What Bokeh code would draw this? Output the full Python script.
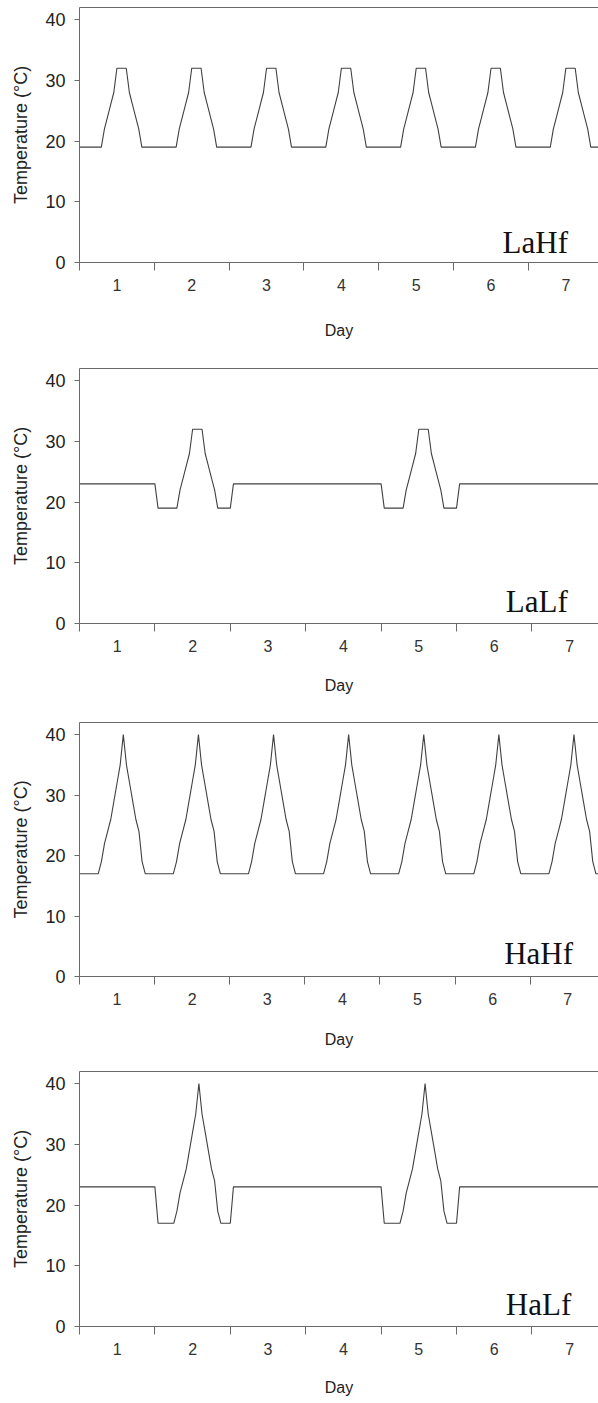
from bokeh.plotting import figure
from bokeh.layouts import column
from bokeh.models import FixedTicker, LinearAxis, Label, Range1d
from bokeh.embed import file_html
from bokeh.resources import INLINE

# ---------------- data ----------------
day_labels = ["1", "2", "3", "4", "5", "6", "7"]
day_centers = [12, 36, 60, 84, 108, 132, 156]          # hours
day_bounds = [0, 24, 48, 72, 96, 120, 144, 168]        # hours
y_ticks = [0, 10, 20, 30, 40]

# low-amplitude heating day profile (hour of day, temperature °C)
la_hours = [0, 7, 8, 9, 10, 11, 12, 15, 16, 17, 18, 19, 20, 24]
la_temps = [19, 19, 22, 24, 26, 28, 32, 32, 28, 26, 24, 22, 19, 19]
# high-amplitude heating day profile
ha_hours = [0, 6, 7, 8, 9, 10, 11, 12, 13, 14, 15, 16, 17, 18, 19, 20, 21, 24]
ha_temps = [17, 17, 19, 22, 24, 26, 29, 32, 35, 40, 35, 32, 29, 26, 24, 19, 17, 17]

lf_base = 23                      # constant temperature on non-heated days
hf_heat_days = [1, 2, 3, 4, 5, 6, 7]
lf_heat_days = [2, 5]
panel_names = ["LaHf", "LaLf", "HaHf", "HaLf"]


def build_series(hours, temps, heat_days, base=None):
    xs, ys = [], []
    if base is None:
        xs.append(0); ys.append(temps[0])
        for d in range(1, 8):
            off = (d - 1) * 24
            for h, t in zip(hours[1:], temps[1:]):
                xs.append(off + h); ys.append(t)
        return xs, ys
    xs.append(0); ys.append(base)
    for d in range(1, 8):
        off = (d - 1) * 24
        if d in heat_days:
            xs += [off, off + 1]; ys += [base, temps[0]]
            for h, t in zip(hours, temps):
                if 0 < h < 24:
                    xs.append(off + h); ys.append(t)
            xs += [off + 24, off + 25]; ys += [temps[-1], base]
        else:
            xs.append(off + 24); ys.append(base)
    return xs, ys


series = [
    build_series(la_hours, la_temps, hf_heat_days),
    build_series(la_hours, la_temps, lf_heat_days, lf_base),
    build_series(ha_hours, ha_temps, hf_heat_days),
    build_series(ha_hours, ha_temps, lf_heat_days, lf_base),
]

# ---------------- layout ----------------
heights = [360, 352, 349, 341]
top_b = [7, 8, 10, 10]
bot_b = [98, 89, 85, 76]
left_b = [75, 79, 77, 79]
day_standoff = [28, 22, 23, 21]
name_y = [3.35, 3.6, 3.75, 3.7]
PX_PER_HOUR = 75.4 / 24.0
W = 598
AX = "#6a6a6a"
TXT = "#222222"
FONT = "Liberation Sans"

figs = []
for i in range(4):
    xend = (W - left_b[i]) / PX_PER_HOUR
    p = figure(width=W, height=heights[i], output_backend="svg", toolbar_location=None,
               x_range=Range1d(0, xend), y_range=Range1d(0, 42),
               min_border_left=left_b[i], min_border_right=0,
               min_border_top=top_b[i], min_border_bottom=bot_b[i])
    p.outline_line_color = None
    p.xgrid.visible = False
    p.ygrid.visible = False
    p.background_fill_color = "white"

    xs, ys = series[i]
    p.line(xs, ys, line_color="#404040", line_width=1.1)

    xa = p.xaxis[0]
    xa.ticker = FixedTicker(ticks=day_centers, minor_ticks=day_bounds)
    xa.major_label_overrides = {c: l for c, l in zip(day_centers, day_labels)}
    xa.major_tick_out = 0
    xa.major_tick_in = 0
    xa.minor_tick_out = 8
    xa.minor_tick_in = 0
    xa.minor_tick_line_color = AX
    xa.axis_line_color = AX
    xa.major_label_text_font = FONT
    xa.major_label_text_font_size = "16px"
    xa.major_label_text_color = "#333333"
    xa.major_label_standoff = 8
    xa.axis_label = "Day"
    xa.axis_label_text_font = FONT
    xa.axis_label_text_font_size = "16px"
    xa.axis_label_text_font_style = "normal"
    xa.axis_label_text_color = TXT
    xa.axis_label_standoff = day_standoff[i]

    ya = p.yaxis[0]
    ya.ticker = FixedTicker(ticks=y_ticks)
    ya.major_tick_out = 5
    ya.major_tick_in = 0
    ya.major_tick_line_color = AX
    ya.minor_tick_line_color = None
    ya.axis_line_color = AX
    ya.major_label_text_font = FONT
    ya.major_label_text_font_size = "18px"
    ya.major_label_text_color = TXT
    ya.major_label_standoff = 9
    ya.axis_label = "Temperature (°C)"
    ya.axis_label_text_font = FONT
    ya.axis_label_text_font_size = "18px"
    ya.axis_label_text_font_style = "normal"
    ya.axis_label_text_color = TXT
    ya.axis_label_standoff = 11

    top = LinearAxis(ticker=FixedTicker(ticks=[]), axis_line_color=AX,
                     major_tick_line_color=None, minor_tick_line_color=None,
                     major_tick_out=0, major_tick_in=0, minor_tick_out=0, minor_tick_in=0,
                     major_label_standoff=0, major_label_text_font_size="0px")
    p.add_layout(top, "above")

    p.add_layout(Label(x=135.7, y=name_y[i], text=panel_names[i],
                       text_font="Liberation Serif", text_font_size="31px",
                       text_color="#111111", text_baseline="alphabetic"))
    figs.append(p)

layout = column(*figs)
open("out.html", "w").write(file_html(layout, INLINE))
